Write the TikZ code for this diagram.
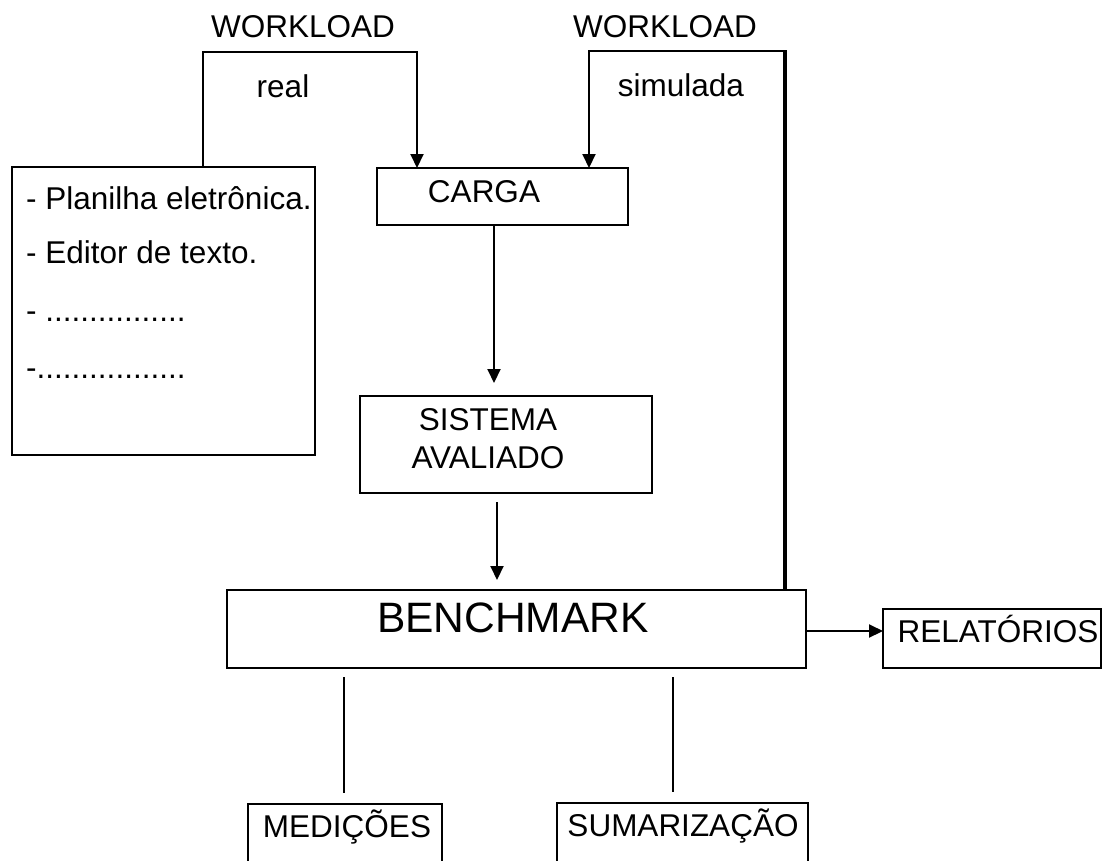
\documentclass[tikz,border=0pt]{standalone}
\usepackage{fontspec}
\setmainfont{Liberation Sans}
\usetikzlibrary{arrows.meta,calc}
\begin{document}
\begin{tikzpicture}[x=1pt,y=-1pt,
  box/.style={draw, line width=2.6pt, inner sep=0pt, outer sep=0pt},
  txt/.style={inner sep=0pt, anchor=base, font=\fontsize{31.5}{37.8}\selectfont},
  ltxt/.style={txt, anchor=base west},
  bigtxt/.style={txt, font=\fontsize{42.5}{51}\selectfont},
  conn/.style={draw, line width=2pt},
  arr/.style={conn, -{Triangle[length=14pt,width=13pt]}}
]
\clip (0,0) rectangle (1110,860);
\fill[white] (0,0) rectangle (1110,860);

% boxes
\node[box, minimum width=303pt, minimum height=288pt] (apps) at (163.5,311) {};
\node[box, minimum width=251pt, minimum height=57pt] (carga) at (502.5,196.5) {};
\node[box, minimum width=292pt, minimum height=97pt] (sistema) at (506,444.5) {};
\node[box, minimum width=579pt, minimum height=78pt] (bench) at (516.5,629) {};
\node[box, minimum width=218pt, minimum height=59pt] (rel) at (992,638.5) {};
\node[box, minimum width=194pt, minimum height=96pt] (med) at (345,852) {};
\node[box, minimum width=251pt, minimum height=97pt] (sum) at (682.5,851.5) {};

% texts
\node[txt] (wl1) at (303,37) {WORKLOAD};
\node[txt] (wl2) at (665,37) {WORKLOAD};
\node[txt] (real) at (283,97) {real};
\node[txt] (simul) at (681,96) {simulada};
\node[ltxt] (l1) at (26,209) {- Planilha eletrônica.};
\node[ltxt] (l2) at (26,263) {- Editor de texto.};
\node[ltxt] (l3) at (26,321) {- ................};
\node[ltxt] (l4) at (26,378) {-.................};
\node[txt] (tcarga) at (484,202) {CARGA};
\node[txt] (tsis1) at (488,430) {SISTEMA};
\node[txt] (tsis2) at (488,468) {AVALIADO};
\node[bigtxt] (tbench) at (513,632) {BENCHMARK};
\node[txt] (trel) at (998,642) {RELATÓRIOS};
\node[txt] (tmed) at (347,837) {MEDIÇÕES};
\node[txt] (tsum) at (683,836) {SUMARIZAÇÃO};

% connectors
\coordinate (r1) at (203,52);
\coordinate (r2) at (417,52);
\draw[arr] (apps.north -| r1) -- (r1) -- (r2) -- (r2 |- carga.north);

\coordinate (s1) at (785,51);
\coordinate (s2) at (589,51);
\draw[conn, line width=3.2pt] (bench.north -| s1) -- (s1);
\draw[arr] ([xshift=1.6pt]s1) -- (s2) -- (s2 |- carga.north);

\coordinate (a1) at (494,0);
\draw[arr, shorten >=13pt] (carga.south -| a1) -- (sistema.north -| a1);
\coordinate (a2) at (497,0);
\draw[arr, shorten <=9pt, shorten >=10pt] (sistema.south -| a2) -- (bench.north -| a2);
\coordinate (a3) at (0,631);
\draw[arr] (bench.east |- a3) -- (rel.west |- a3);

\coordinate (m1) at (344,0);
\draw[conn, shorten <=9pt, shorten >=11pt] (bench.south -| m1) -- (med.north -| m1);
\coordinate (m2) at (673,0);
\draw[conn, shorten <=9pt, shorten >=11pt] (bench.south -| m2) -- (sum.north -| m2);
\end{tikzpicture}
\end{document}
